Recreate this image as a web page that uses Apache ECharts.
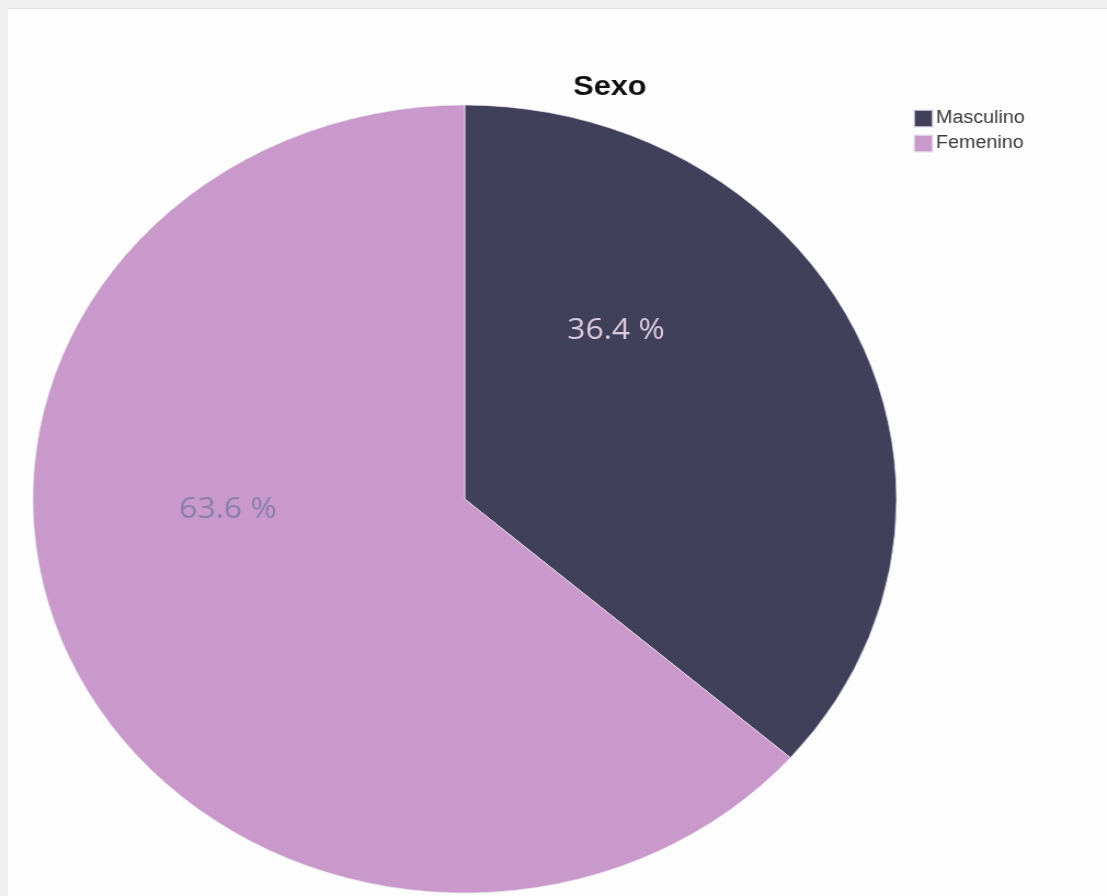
<!DOCTYPE html>
<html>
<head>
<meta charset="utf-8">
<title>Sexo</title>
<script src="https://cdn.jsdelivr.net/npm/echarts@6/dist/echarts.min.js"></script>
<style>
  html, body { margin: 0; padding: 0; width: 1107px; height: 896px; overflow: hidden; background: #efefef; }
  #panel { position: absolute; left: 8px; top: 8px; right: 0; bottom: 0; background: #fdfdfd; border-top: 1px solid #e2e2e2; }
  /* the chart is drawn a little wider than it is tall */
  #chart { position: absolute; left: 0; top: 0; width: 1010px; height: 896px; transform: scaleX(1.096); transform-origin: 0 0; }
</style>
</head>
<body>
<div id="panel"></div>
<div id="chart"></div>
<script>
// Distribución por sexo (porcentaje)
const chartTitle = 'Sexo';
const categories = ['Masculino', 'Femenino'];
const percentages = [36.4, 63.6];
const sliceColors = ['#40405a', '#c999cb'];
const labelColors = ['#dccbdf', '#8a7fab'];
// label nudges from the slice mid-radius, in px
const labelShift = [[-44, -85], [-34, -72]];

const chart = echarts.init(document.getElementById('chart'), null, { renderer: 'canvas' });

const data = categories.map((name, i) => ({
  name: name,
  value: percentages[i],
  itemStyle: { color: sliceColors[i] },
  label: { color: labelColors[i], offset: labelShift[i] }
}));

chart.setOption({
  animation: false,
  backgroundColor: 'transparent',
  title: {
    text: chartTitle,
    left: 518,
    top: 68,
    textStyle: { fontFamily: 'Liberation Sans', fontWeight: 'bold', fontSize: 28, color: '#111' }
  },
  legend: {
    orient: 'vertical',
    left: 828,
    top: 104,
    itemWidth: 17,
    itemHeight: 17,
    itemGap: 6,
    icon: 'rect',
    selectedMode: false,
    textStyle: { fontFamily: 'Liberation Sans', fontSize: 18, color: '#3a3a3a', padding: [0, 0, 0, -2] },
    data: categories
  },
  series: [{
    type: 'pie',
    center: [424, 499],
    radius: 394,
    startAngle: 90,
    clockwise: true,
    silent: true,
    itemStyle: { borderColor: 'rgba(235,228,240,0.7)', borderWidth: 1 },
    label: {
      show: true,
      position: 'inside',
      fontFamily: 'Open Sans',
      fontSize: 29,
      formatter: p => p.value.toFixed(1) + ' %'
    },
    labelLine: { show: false },
    emphasis: { disabled: true },
    data: data
  }]
});
</script>
</body>
</html>
